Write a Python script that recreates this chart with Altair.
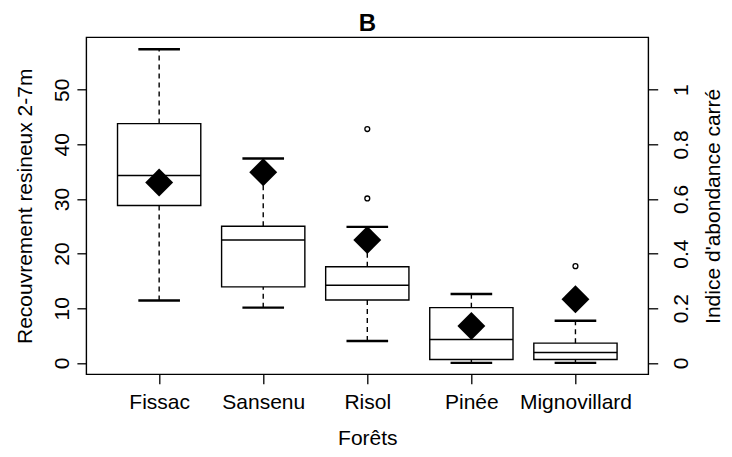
import altair as alt
import pandas as pd

# ---- data ----
forets = ["Fissac", "Sansenu", "Risol", "Pinée", "Mignovillard"]
whisker_low = [11.4, 10.1, 4.0, 0.0, 0.0]
q1 = [28.8, 13.9, 11.5, 0.6, 0.6]
median = [34.3, 22.5, 14.2, 4.25, 1.9]
q3 = [43.8, 25.0, 17.6, 10.1, 3.6]
whisker_high = [57.4, 37.4, 24.9, 12.6, 7.7]
outlier_foret = ["Risol", "Risol", "Mignovillard"]
outlier_value = [42.8, 30.1, 17.7]
indice = [0.66, 0.698, 0.45, 0.135, 0.233]

left_ticks = [0, 10, 20, 30, 40, 50]
right_ticks = [0, 0.2, 0.4, 0.6, 0.8, 1]

# ---- tables ----
summary = pd.DataFrame({
    "foret": forets,
    "pos": list(range(1, len(forets) + 1)),
    "wl": whisker_low, "q1": q1, "med": median, "q3": q3, "wh": whisker_high,
    "indice": indice,
})
outl = pd.DataFrame({"foret": outlier_foret, "value": outlier_value})
outl["pos"] = [forets.index(f) + 1 for f in outlier_foret]

FONT = "Liberation Sans"
FS = 21
W, H = 562, 337
PAD_L, PAD_T = 78.3, 29.3
PAD_R = 716 - PAD_L - W
PAD_B = 441 - PAD_T - H

label_arr = "[" + ",".join("'" + f + "'" for f in forets) + "]"

xscale = alt.Scale(domain=[0.3, 5.7], nice=False, zero=False)
xaxis = alt.Axis(
    values=list(range(1, len(forets) + 1)), labelExpr=label_arr + "[datum.value-1]",
    title="Forêts", domain=False, grid=False, tickColor="black", tickWidth=1.3,
    tickSize=9.4, labelPadding=25, labelBaseline="alphabetic", labelFont=FONT,
    labelFontSize=FS, labelColor="black", titleFont=FONT, titleFontSize=FS,
    titleFontWeight="normal", titleColor="black", titleX=W / 2, titleY=69.7,
    titleBaseline="alphabetic", titleAlign="center", labelOverlap=False,
)
yscale = alt.Scale(domain=[-2.1, 59.6], nice=False, zero=False)
yaxis = alt.Axis(
    values=left_ticks, labelExpr="'' + datum.value", title="Recouvrement resineux 2-7m",
    domain=False, grid=False, tickColor="black", tickWidth=1.3, tickSize=9.4,
    labelAngle=-90, labelAlign="center", labelBaseline="alphabetic", labelPadding=8.6,
    labelFont=FONT, labelFontSize=FS, labelColor="black",
    titleFont=FONT, titleFontSize=FS, titleFontWeight="normal", titleColor="black",
    titleAngle=-90, titleX=-55, titleY=H / 2, titleAlign="center",
    titleBaseline="alphabetic", labelOverlap=False,
)
y2scale = alt.Scale(domain=[-2.1 / 50, 59.6 / 50], nice=False, zero=False)
y2axis = alt.Axis(
    orient="right", values=right_ticks, labelExpr="'' + datum.value",
    title="Indice d'abondance carré", domain=False, grid=False, tickColor="black",
    tickWidth=1.3, tickSize=9.4, labelAngle=-90, labelAlign="center",
    labelBaseline="alphabetic", labelPadding=30, labelFont=FONT, labelFontSize=FS,
    labelColor="black", titleFont=FONT, titleFontSize=FS, titleFontWeight="normal",
    titleColor="black", titleAngle=-90, titleX=71.5, titleY=H / 2, titleAlign="center",
    titleBaseline="alphabetic", labelOverlap=False,
)

base = alt.Chart(summary).transform_calculate(
    x_lo="datum.pos - 0.4", x_hi="datum.pos + 0.4",
    c_lo="datum.pos - 0.2", c_hi="datum.pos + 0.2",
)

box = base.mark_rect(fill="white", stroke="black", strokeWidth=1.4).encode(
    x=alt.X("x_lo:Q", scale=xscale, axis=xaxis), x2="x_hi:Q",
    y=alt.Y("q1:Q", scale=yscale, axis=yaxis), y2="q3:Q",
)
whisk_up = base.mark_rule(color="black", strokeWidth=1.4, strokeDash=[5, 4]).encode(
    x=alt.X("pos:Q", scale=xscale, axis=xaxis),
    y=alt.Y("q3:Q", scale=yscale, axis=yaxis), y2="wh:Q",
)
whisk_lo = base.mark_rule(color="black", strokeWidth=1.4, strokeDash=[5, 4]).encode(
    x=alt.X("pos:Q", scale=xscale, axis=xaxis),
    y=alt.Y("wl:Q", scale=yscale, axis=yaxis), y2="q1:Q",
)
cap_up = base.mark_rule(color="black", strokeWidth=2.4).encode(
    x=alt.X("c_lo:Q", scale=xscale, axis=xaxis), x2="c_hi:Q",
    y=alt.Y("wh:Q", scale=yscale, axis=yaxis),
)
cap_lo = base.mark_rule(color="black", strokeWidth=2.4).encode(
    x=alt.X("c_lo:Q", scale=xscale, axis=xaxis), x2="c_hi:Q",
    y=alt.Y("wl:Q", scale=yscale, axis=yaxis),
)
med = base.mark_rule(color="black", strokeWidth=1.5).encode(
    x=alt.X("x_lo:Q", scale=xscale, axis=xaxis), x2="x_hi:Q",
    y=alt.Y("med:Q", scale=yscale, axis=yaxis),
)
outs = alt.Chart(outl).mark_point(shape="circle", filled=False, color="black",
                                  strokeWidth=1.3, size=24, opacity=1).encode(
    x=alt.X("pos:Q", scale=xscale, axis=xaxis),
    y=alt.Y("value:Q", scale=yscale, axis=yaxis),
)
left = alt.layer(box, whisk_up, whisk_lo, cap_up, cap_lo, med, outs)

diam = alt.Chart(summary).mark_point(shape="diamond", filled=True, color="black",
                                     size=780, opacity=1).encode(
    x=alt.X("pos:Q", scale=xscale, axis=xaxis),
    y=alt.Y("indice:Q", scale=y2scale, axis=y2axis),
)

chart = alt.layer(left, diam).resolve_scale(y="independent").properties(
    width=W, height=H,
    autosize=alt.AutoSizeParams(type="none"),
    padding={"left": PAD_L, "top": PAD_T, "right": PAD_R, "bottom": PAD_B},
    background="white",
    title=alt.TitleParams("B", font=FONT, fontSize=24, fontWeight="bold", color="black",
                          anchor="middle", frame="group", orient="top", offset=1.5),
).configure_view(stroke="black", strokeWidth=1.4)

chart.save("out.html", embed_options={"renderer": "svg", "actions": False})
